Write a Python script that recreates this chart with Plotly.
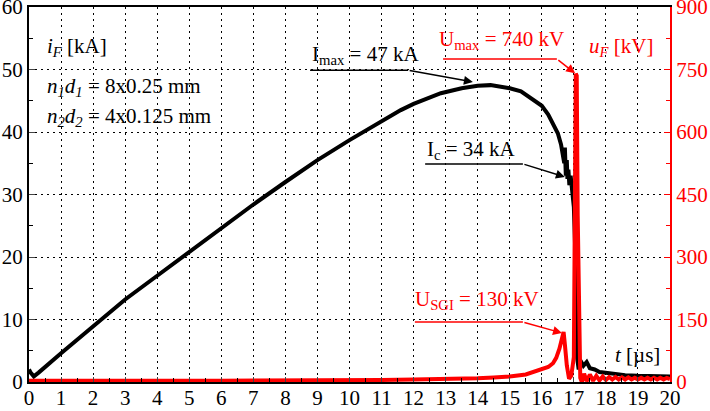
import plotly.graph_objects as go

# current i_F [kA]
t_i = [0, 0.05, 0.15, 0.3, 1, 2, 3, 4, 5, 6, 7, 8, 9, 10, 11, 11.6, 12, 12.85,
       13.5, 14, 14.4, 14.7, 15.0, 15.35, 15.75, 16.0, 16.2, 16.4, 16.5, 16.6,
       16.65, 16.7, 16.72, 16.75, 16.78, 16.8, 16.83, 16.86, 16.9, 16.93, 16.96,
       17.0, 17.05, 17.08, 17.1, 17.15, 17.2, 17.3, 17.4, 17.5, 17.65, 17.8,
       18.2, 18.6, 19, 19.5, 20]
i_F = [2.0, 1.5, 0.9, 1.5, 4.6, 8.8, 13.2, 17.0, 20.8, 24.6, 28.4, 32.0, 35.5,
       38.7, 41.7, 43.5, 44.5, 46.2, 47.0, 47.4, 47.5, 47.3, 47.0, 46.5, 45.2,
       44.2, 42.8, 41.0, 39.8, 38.0, 36.8, 35.0, 37.5, 33.0, 35.5, 32.5, 34.0,
       31.5, 33.0, 31.0, 30.0, 28.0, 20.0, 10.0, 4.0, 2.0, 3.5, 2.6, 3.2, 2.2,
       2.0, 1.6, 1.3, 1.1, 1.0, 1.0, 0.9]

# voltage u_F [kV]
t_u = [0, 1, 2, 3, 4, 5, 6, 7, 8, 9, 10, 11, 12, 13, 14, 14.5, 15, 15.5, 15.8,
       16.0, 16.2, 16.35, 16.45, 16.55, 16.62, 16.68, 16.72, 16.78, 16.85,
       16.92, 17.0, 17.03, 17.06, 17.09, 17.12, 17.16, 17.2, 17.25, 17.32, 17.4,
       17.5, 17.6, 17.7, 17.8, 17.9, 18.0, 18.1, 18.2, 18.3, 18.4, 18.5, 18.6,
       18.7, 18.8, 18.9, 19.0, 19.1, 19.2, 19.3, 19.4, 19.5, 19.6, 19.7, 19.8,
       19.9, 20]
u_F = [3, 2, 3, 3, 2, 3, 3, 3, 3, 3, 4, 5, 6, 7, 9, 11, 13, 18, 25, 30, 36, 45,
       58, 80, 105, 120, 90, 40, 8, 15, 60, 300, 740, 735, 400, 100, 10, 0, 20,
       2, 18, 3, 15, 4, 13, 5, 12, 6, 12, 6, 11, 6, 11, 6, 10, 6, 10, 6, 10, 6,
       10, 6, 10, 6, 10, 7]

x_ticks = list(range(0, 21))
i_ticks = [0, 10, 20, 30, 40, 50, 60]
u_ticks = [0, 150, 300, 450, 600, 750, 900]

RED = "#ff0000"
FONT = "Liberation Serif"
GRID_DASH = "2px,4px"

fig = go.Figure()
fig.add_trace(go.Scatter(x=t_i, y=i_F, mode="lines",
                         line=dict(color="black", width=4)))
fig.add_trace(go.Scatter(x=t_u, y=u_F, mode="lines", yaxis="y2",
                         line=dict(color=RED, width=4)))

ann = []
def label(x, y, text, color="black"):
    ann.append(dict(x=x, y=y, xref="x", yref="y", text=text, showarrow=False,
                    xanchor="left", yanchor="middle",
                    font=dict(family=FONT, size=21, color=color)))

def pointer(x0, x1, y0, xh, yh, color="black"):
    # underline below the text, then an arrow to the point
    fig.add_shape(type="line", xref="x", yref="y", x0=x0, x1=x1, y0=y0, y1=y0,
                  line=dict(color=color, width=1.5))
    ann.append(dict(x=xh, y=yh, ax=x1, ay=y0, xref="x", yref="y",
                    axref="x", ayref="y", text="", showarrow=True,
                    arrowhead=2, arrowsize=1.2, arrowwidth=1.5, arrowcolor=color))

label(0.5, 53.6, "<i>i<sub>F</sub></i> [kA]")
label(0.5, 47.2, "<i>n<sub>1</sub>d<sub>1</sub></i> = 8x0.25 mm")
label(0.5, 42.4, "<i>n<sub>2</sub>d<sub>2</sub></i> = 4x0.125 mm")
label(8.77, 52.3, "I<sub>max</sub> = 47 kA")
label(12.73, 54.7, "U<sub>max</sub> = 740 kV", RED)
label(17.41, 53.6, "<i>u<sub>F</sub></i> [kV]", RED)
label(12.36, 37.1, "I<sub>c</sub> = 34 kA")
label(11.98, 13.1, "U<sub>SGI</sub> = 130 kV", RED)
label(18.22, 4.3, "<i>t</i> [µs]")

pointer(8.77, 11.83, 49.9, 13.85, 48.0)
pointer(12.92, 16.47, 51.7, 17.04, 49.4, RED)
pointer(12.36, 15.41, 34.9, 16.72, 32.8)
pointer(12.04, 15.41, 9.6, 16.63, 7.84, RED)

fig.update_layout(
    width=710, height=411,
    margin=dict(l=29, r=40, t=7, b=29, autoexpand=False),
    paper_bgcolor="white", plot_bgcolor="white",
    showlegend=False,
    font=dict(family=FONT, size=21, color="black"),
    annotations=ann,
    xaxis=dict(range=[0, 20], tickvals=x_ticks, ticks="inside", ticklen=5,
               automargin=False, ticklabeloverflow="allow", ticklabelstandoff=-4,
               showline=True, linecolor="black", linewidth=2, mirror=True,
               showgrid=True, gridcolor="black", griddash=GRID_DASH, gridwidth=1,
               zeroline=False,
               minor=dict(dtick=0.5, ticks="inside", ticklen=4,
                          tickcolor="black", showgrid=False)),
    yaxis=dict(range=[0, 60], tickvals=i_ticks, ticks="inside", ticklen=6,
               automargin=False, ticklabeloverflow="allow",
               showline=True, linecolor="black", linewidth=2,
               showgrid=True, gridcolor="black", griddash=GRID_DASH, gridwidth=1,
               zeroline=False,
               minor=dict(dtick=5, ticks="inside", ticklen=4,
                          tickcolor="black", showgrid=False)),
    yaxis2=dict(range=[0, 900], tickvals=u_ticks, overlaying="y", side="right",
                automargin=False, ticklabeloverflow="allow",
                ticks="inside", ticklen=6, tickcolor=RED,
                tickfont=dict(color=RED, family=FONT, size=21),
                showline=True, linecolor=RED, linewidth=2,
                showgrid=False, zeroline=False,
                minor=dict(dtick=75, ticks="inside", ticklen=4,
                           tickcolor=RED, showgrid=False)),
)

# the page's default body margin would shift the figure by 8 px
fig.write_html("out.html", config={"displayModeBar": False},
               post_script="document.body.style.margin='0';")
